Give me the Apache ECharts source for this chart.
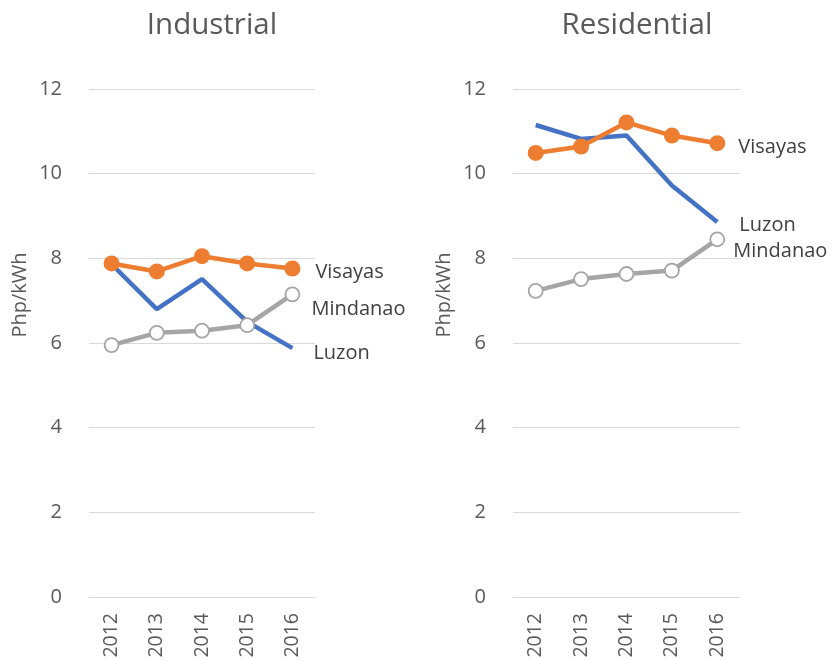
<!DOCTYPE html>
<html><head><meta charset="utf-8">
<script src="https://cdn.jsdelivr.net/npm/echarts@6/dist/echarts.min.js"></script>
<style>html,body{margin:0;padding:0;background:#fff}#c{width:834px;height:661px}</style>
</head><body><div id="c"></div>
<script>
const years = ['2012','2013','2014','2015','2016'];
const yTicks = [0,2,4,6,8,10,12];
const panelTitles = ['Industrial','Residential'];
const seriesNames = ['Luzon','Visayas','Mindanao'];
const indLuzon = [7.86, 6.80, 7.51, 6.50, 5.88];
const indVisayas = [7.88, 7.69, 8.05, 7.88, 7.76];
const indMindanao = [5.95, 6.24, 6.29, 6.42, 7.15];
const resLuzon = [11.15, 10.82, 10.90, 9.72, 8.86];
const resVisayas = [10.49, 10.64, 11.21, 10.90, 10.72];
const resMindanao = [7.23, 7.51, 7.63, 7.71, 8.45];

const font = 'Open Sans, Liberation Sans, sans-serif';
const txt = '#595959';
const colors = {Luzon:'#4472C4', Visayas:'#ED7D31', Mindanao:'#A5A5A5'};
const labelOffsets = [
  {Luzon:[21,5], Visayas:[23,4], Mindanao:[19,15]},
  {Luzon:[22,3], Visayas:[21,4], Mindanao:[16,12]}
];
const panelData = [
  {Luzon:indLuzon, Visayas:indVisayas, Mindanao:indMindanao},
  {Luzon:resLuzon, Visayas:resVisayas, Mindanao:resMindanao}
];
const grids = [
  {left:89, width:226, top:89, height:508},
  {left:513, width:227, top:89, height:508}
];

const chart = echarts.init(document.getElementById('c'));
const series = [];
panelData.forEach((pd, gi) => {
  seriesNames.forEach(name => {
    const isV = name==='Visayas', isM = name==='Mindanao';
    series.push({
      name, type:'line', xAxisIndex:gi, yAxisIndex:gi,
      data: pd[name],
      showSymbol: name!=='Luzon',
      symbol:'circle',
      symbolSize: isV ? 16 : 14,
      lineStyle:{width:4.5, color:colors[name]},
      itemStyle: isM ? {color:'#fff', borderColor:colors[name], borderWidth:1.8} : {color:colors[name]},
      emphasis:{disabled:true},
      animation:false,
      endLabel:{show:true, formatter:name, color:'#404040', fontFamily:font, fontSize:20,
        distance:0, offset:labelOffsets[gi][name], verticalAlign:'middle', align:'left'}
    });
  });
});

chart.setOption({
  animation:false,
  title: panelTitles.map((t,i)=>({text:t, left: i===0?207:632, top:6, textAlign:'center',
    textStyle:{fontFamily:font, fontSize:29.5, fontWeight:'normal', color:txt}})),
  grid: grids,
  xAxis: grids.map((g,i)=>({type:'category', gridIndex:i, data:years, boundaryGap:true,
    axisLine:{show:true, lineStyle:{color:'#d9d9d9', width:1}}, axisTick:{show:false},
    axisLabel:{rotate:90, color:txt, fontFamily:font, fontSize:19.5, margin:16}})),
  yAxis: grids.map((g,i)=>({type:'value', gridIndex:i, min:yTicks[0], max:yTicks[yTicks.length-1], interval:2,
    name:'Php/kWh', nameLocation:'middle', nameGap:59, nameRotate:90,
    nameTextStyle:{color:txt, fontFamily:font, fontSize:20, padding:[0,0,0,96]},
    axisLine:{show:false}, axisTick:{show:false},
    axisLabel:{color:txt, fontFamily:font, fontSize:20, margin:27},
    splitLine:{lineStyle:{color:'#d9d9d9', width:1}}})),
  series
});
</script></body></html>
